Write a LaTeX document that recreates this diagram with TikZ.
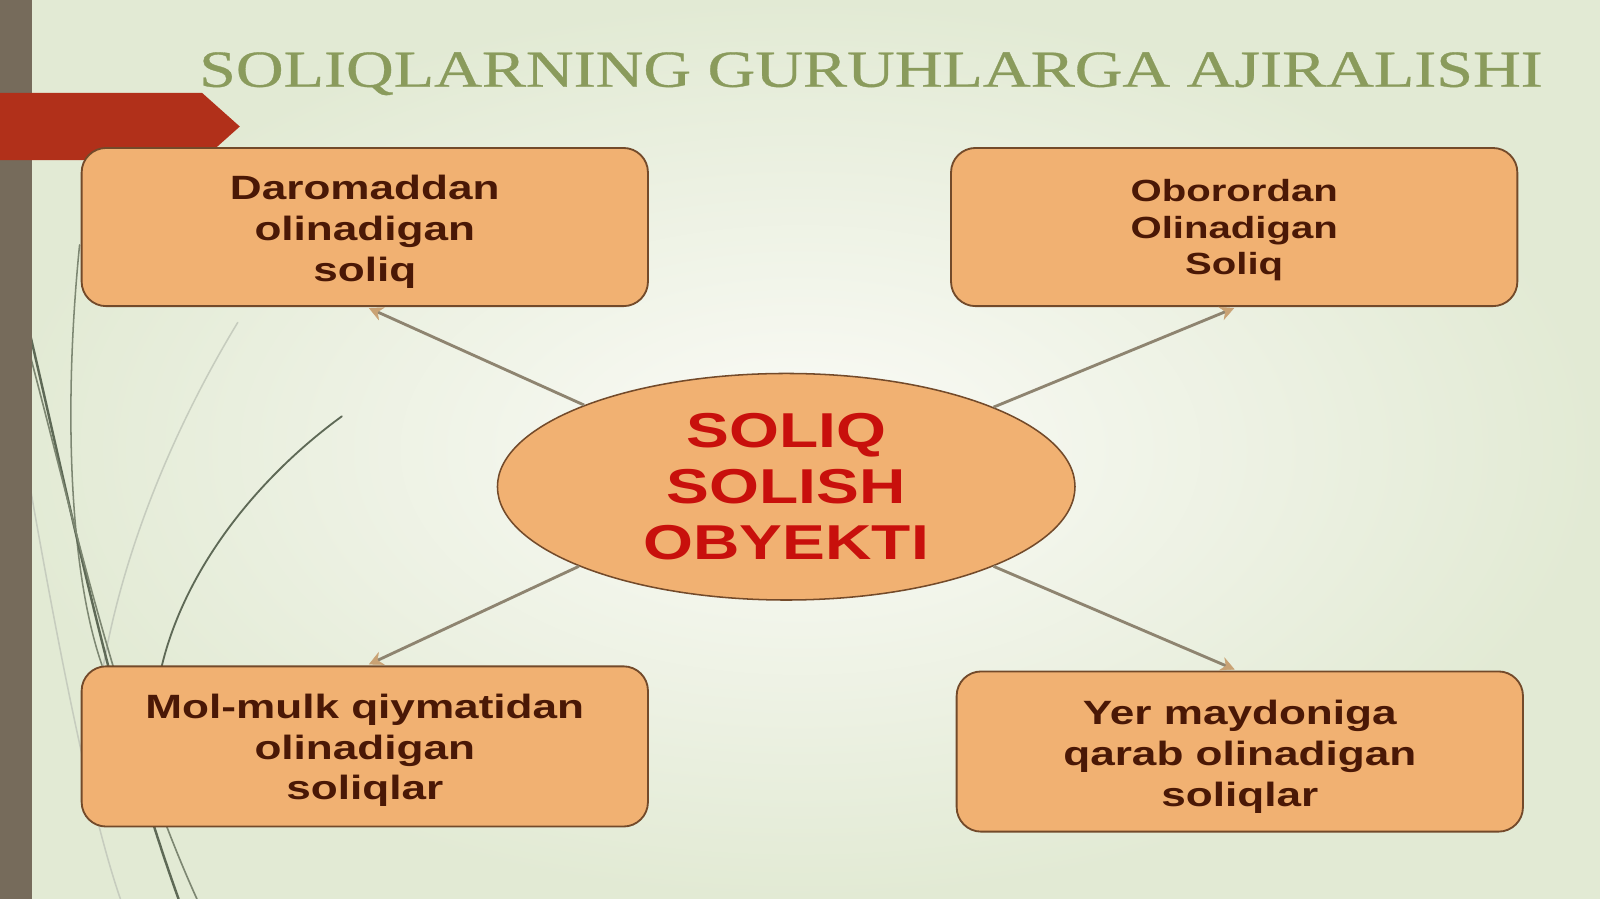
\documentclass[tikz,border=0pt]{standalone}
\usepackage{fontspec}
\usetikzlibrary{shapes.geometric,arrows.meta,calc}
\setmainfont{Liberation Sans}
\newfontfamily\boxfont{Liberation Sans}[FakeStretch=1.31]
\newfontfamily\titlefont{Liberation Serif}[FakeStretch=1.27,FakeBold=0.6]
\newcommand{\lift}[1]{\rule{0pt}{#1}}
\definecolor{bgout}{HTML}{E2EAD4}
\definecolor{bgin}{HTML}{FBFBF7}
\definecolor{barcol}{HTML}{766B5B}
\definecolor{bannercol}{HTML}{B1301A}
\definecolor{titlecol}{HTML}{8A9B5C}
\definecolor{boxfill}{HTML}{F1B172}
\definecolor{boxdraw}{HTML}{734A2A}
\definecolor{boxtext}{HTML}{4A1806}
\definecolor{centertext}{HTML}{C8100C}
\definecolor{arrowcol}{HTML}{8E8470}
\definecolor{tipcol}{HTML}{C9A274}
\definecolor{curvedark}{HTML}{5E6956}
\definecolor{curvemid}{HTML}{7D8772}
\definecolor{curvelight}{HTML}{C6CCBE}
\tikzset{
  taxbox/.style={draw=boxdraw, line width=1.8pt, fill=boxfill, rounded corners=24pt,
    minimum width=555pt, inner sep=0pt, text=boxtext, align=center,
    font=\boxfont\bfseries\fontsize{33}{40}\selectfont},
  hub/.style={ellipse, draw=boxdraw, line width=1.5pt, fill=boxfill,
    minimum width=566pt, minimum height=222pt, inner sep=0pt, text=centertext, align=center,
    font=\boxfont\bfseries\fontsize{48}{55}\selectfont},
  link/.style={draw=arrowcol, line width=2.8pt,
    -{Stealth[length=14pt,width=14pt,fill=tipcol,color=tipcol,line width=0.5pt]}},
  deco/.style={line cap=round},
}
\begin{document}
\begin{tikzpicture}[x=1pt,y=-1pt]
\useasboundingbox (0,0) rectangle (1568,881);
% background
\shade[inner color=bgin, outer color=bgout] (0,0) rectangle (1568,881);
% decorative curves
\draw[deco, curvelight, line width=1.5pt] (233,316) .. controls (170,420) and (120,540) .. (100,660);
\draw[deco, curvelight, line width=1.5pt] (30,480) .. controls (60,650) and (90,800) .. (118,881);
\draw[deco, curvemid, line width=1.5pt] (78,240) .. controls (62,400) and (68,560) .. (100,652);
\draw[deco, curvedark, line width=2.4pt] (30,330) .. controls (70,500) and (110,700) .. (175,881);
\draw[deco, curvemid, line width=1.6pt] (30,350) .. controls (75,520) and (120,720) .. (193,881);
\draw[deco, curvedark, line width=1.8pt] (335,408) .. controls (250,470) and (180,560) .. (158,655);
% left bar
\fill[barcol] (0,0) rectangle (31,881);
% red banner
\fill[bannercol] (0,91) -- (198,91) -- (235,124) -- (198,157) -- (0,157) -- cycle;
% title
\node[anchor=base west, inner sep=0pt, text=titlecol, font=\titlefont\fontsize{51}{51}\selectfont] (title) at (195,85) {SOLIQLARNING GURUHLARGA AJIRALISHI};
% boxes
\node[taxbox, minimum height=155pt] (tl) at (357.5,222.5) {\lift{33pt}Daromaddan\\olinadigan\\soliq};
\node[taxbox, minimum height=155pt, font=\boxfont\bfseries\fontsize{30}{36}\selectfont] (tr) at (1209.5,222.5) {\lift{28pt}Oborordan\\Olinadigan\\Soliq};
\node[taxbox, minimum height=157pt, font=\boxfont\bfseries\fontsize{33}{39.5}\selectfont] (bl) at (357.5,731.5) {\lift{32pt}Mol-mulk qiymatidan\\olinadigan\\soliqlar};
\node[taxbox, minimum height=157pt] (br) at (1215,736.5) {\lift{34pt}Yer maydoniga\\qarab olinadigan\\soliqlar};
% hub
\node[hub] (c) at (770.5,477) {SOLIQ\\SOLISH\\OBYEKTI};
% connectors
\draw[link] (c.158.6) -- ($(tl.south)+(4,1)$);
\draw[link] (c.21.4) -- ($(tr.south)+(0,1)$);
\draw[link] (c.201.4) -- ($(bl.north)+(4,-1)$);
\draw[link] (c.-21.4) -- ($(br.north)+(-5,-1)$);
\end{tikzpicture}
\end{document}
